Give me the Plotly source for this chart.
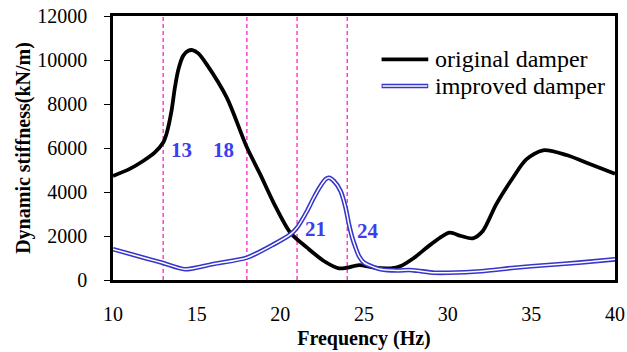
import plotly.graph_objects as go

# Data
freq_orig = [10, 11, 11.8, 12.5, 13, 13.2, 13.5, 13.7, 13.9, 14.2, 14.5, 14.75, 15.1, 15.6,
             16.8, 18, 18.8, 19.6, 20.6, 21.6, 22.6, 23.5, 24, 24.7, 25.6, 26.6, 27.2,
             28, 29, 30.1, 30.8, 31.5, 32.1, 32.9, 33.9, 34.7, 35.7, 37.1, 38.3, 40]
stiff_orig = [4730, 5050, 5410, 5800, 6250, 6650, 7700, 8750, 9550, 10200, 10420, 10450,
              10300, 9800, 8290, 6030, 4800, 3510, 2150, 1470, 864, 530, 560, 680, 560,
              530, 640, 1014, 1620, 2150, 2000, 1895, 2230, 3440, 4650, 5480, 5895, 5680,
              5330, 4830]

freq_impr = [10, 12, 13, 14.3, 16, 18, 19.6, 20.6, 21, 21.6, 22.0, 22.4, 22.7, 22.9, 23.2,
             23.6, 23.9, 24.1, 24.3, 24.5, 24.7, 25.0, 25.4, 26, 27, 27.7, 28.2, 29.2, 30,
             32, 34, 36, 38, 40]
stiff_impr = [1400, 980, 770, 490, 730, 1014, 1620, 2075, 2380, 3136, 3740, 4270, 4577,
              4650, 4500, 4045, 3290, 2530, 1920, 1470, 1090, 790, 640, 486, 430, 455,
              420, 332, 330, 400, 560, 680, 800, 940]

marker_freqs = [13, 18, 21, 24]
marker_labels = ["13", "18", "21", "24"]
label_x = [14.12, 16.63, 22.1, 25.24]
label_y = [5909, 5909, 2318, 2227]

x_ticks = [10, 15, 20, 25, 30, 35, 40]
y_ticks = [0, 2000, 4000, 6000, 8000, 10000, 12000]

BLUE = "#3636c8"
LABEL_BLUE = "#3d3df0"
MAGENTA = "#ff3fcf"
FONT = "Times New Roman, Liberation Serif, serif"

fig = go.Figure()

fig.add_trace(go.Scatter(x=freq_orig, y=stiff_orig, mode="lines",
                         line=dict(color="black", width=3.8, shape="spline", smoothing=0.8),
                         showlegend=False, hoverinfo="skip"))
fig.add_trace(go.Scatter(x=freq_impr, y=stiff_impr, mode="lines",
                         line=dict(color=BLUE, width=4.6, shape="spline", smoothing=0.7),
                         showlegend=False, hoverinfo="skip"))
fig.add_trace(go.Scatter(x=freq_impr, y=stiff_impr, mode="lines",
                         line=dict(color="white", width=1.5, shape="spline", smoothing=0.7),
                         showlegend=False, hoverinfo="skip"))

for f in marker_freqs:
    fig.add_shape(type="line", x0=f, x1=f, y0=0, y1=12000, xref="x", yref="y",
                  line=dict(color=MAGENTA, width=1.5, dash="4px,3px"), layer="below")

for lx, ly, t in zip(label_x, label_y, marker_labels):
    fig.add_annotation(x=lx, y=ly, text="<b>%s</b>" % t, showarrow=False,
                       font=dict(family=FONT, size=21, color=LABEL_BLUE))

# Legend (manual)
fig.add_shape(type="line", xref="paper", yref="paper", x0=0.535, x1=0.628, y0=0.836, y1=0.836,
              line=dict(color="black", width=3.8))
fig.add_shape(type="line", xref="paper", yref="paper", x0=0.535, x1=0.628, y0=0.735, y1=0.735,
              line=dict(color=BLUE, width=4.6))
fig.add_shape(type="line", xref="paper", yref="paper", x0=0.537, x1=0.626, y0=0.735, y1=0.735,
              line=dict(color="white", width=1.5))
fig.add_annotation(xref="paper", yref="paper", x=0.637, y=0.836, xanchor="left", yanchor="middle",
                   text="original damper", showarrow=False,
                   font=dict(family=FONT, size=24, color="black"))
fig.add_annotation(xref="paper", yref="paper", x=0.637, y=0.735, xanchor="left", yanchor="middle",
                   text="improved damper", showarrow=False,
                   font=dict(family=FONT, size=24, color="black"))

fig.update_layout(
    width=627, height=352,
    margin=dict(l=113, r=12, t=16, b=72),
    plot_bgcolor="white", paper_bgcolor="white",
    font=dict(family=FONT, size=20, color="black"),
    showlegend=False,
)
fig.update_xaxes(range=[10, 40], tickvals=x_ticks, ticks="", ticklabelstandoff=14,
                 tickformat="d", automargin=False,
                 showline=True, linecolor="black", linewidth=2.5, mirror=True,
                 showgrid=False, zeroline=False,
                 title=dict(text="<b>Frequency (Hz)</b>", font=dict(family=FONT, size=20), standoff=8))
fig.update_yaxes(range=[0, 12000], tickvals=y_ticks, ticks="outside", ticklen=6, tickwidth=1,
                 tickcolor="black", ticklabelstandoff=13, tickformat="d", automargin=False,
                 showline=True, linecolor="black", linewidth=2.5, mirror=True,
                 showgrid=False, zeroline=False,
                 title=dict(text="<b>Dynamic stiffness(kN/m)</b>", font=dict(family=FONT, size=20), standoff=2))

fig.write_html("out.html")
